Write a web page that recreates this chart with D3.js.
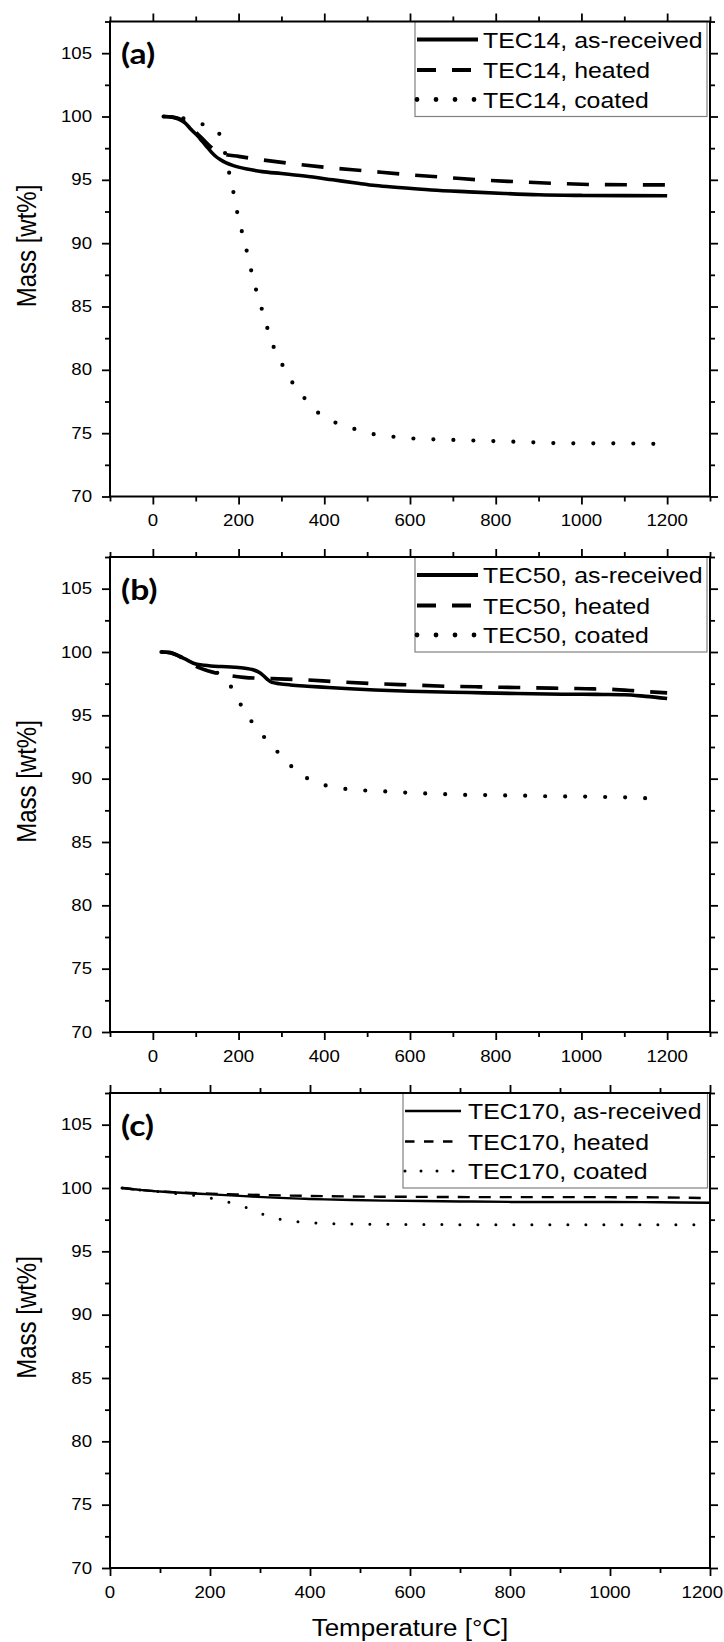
<!DOCTYPE html>
<html>
<head>
<meta charset="utf-8">
<script src="https://cdn.jsdelivr.net/npm/d3@7/dist/d3.min.js"></script>
<style>
  html, body { margin: 0; padding: 0; background: #fff; }
  svg { display: block; }
  text { font-family: "Liberation Sans", Arial, sans-serif; fill: #000; }
</style>
</head>
<body>
<svg id="chart" width="724" height="1642"></svg>
<script>
// ---------------- DATA ----------------
const panelLabels = ["(a)", "(b)", "(c)"];
const yTitle = "Mass [wt%]";
const xTitle = "Temperature [°C]";
const yMajorTicks = [70, 75, 80, 85, 90, 95, 100, 105];
const yMinorTicks = [72.5, 77.5, 82.5, 87.5, 92.5, 97.5, 102.5, 107.5];
const xMajorTicks = [0, 200, 400, 600, 800, 1000, 1200];
const xMinorTicksAB = [-100, 100, 300, 500, 700, 900, 1100, 1300];
const xMinorTicksC = [100, 300, 500, 700, 900, 1100];

const legendA = ["TEC14, as-received", "TEC14, heated", "TEC14, coated"];
const legendB = ["TEC50, as-received", "TEC50, heated", "TEC50, coated"];
const legendC = ["TEC170, as-received", "TEC170, heated", "TEC170, coated"];

// Panel (a)
const tec14ReceivedT = [25, 45, 60, 75, 90, 105, 115, 125, 135, 145, 157, 170, 190, 220, 255, 300, 354, 420, 474, 520, 572, 650, 737, 820, 900, 1000, 1100, 1200];
const tec14ReceivedM = [100, 99.95, 99.8, 99.5, 98.95, 98.45, 98.05, 97.65, 97.25, 96.9, 96.6, 96.35, 96.1, 95.85, 95.65, 95.5, 95.3, 95.0, 94.75, 94.55, 94.4, 94.2, 94.05, 93.92, 93.82, 93.77, 93.75, 93.74];
const tec14HeatedT = [25, 45, 60, 75, 90, 105, 120, 135, 150, 165, 200, 250, 320, 400, 500, 600, 700, 760, 850, 955, 1050, 1200];
const tec14HeatedM = [100, 99.95, 99.85, 99.6, 99.1, 98.6, 98.1, 97.6, 97.25, 97.05, 96.85, 96.6, 96.3, 96.0, 95.7, 95.4, 95.15, 95.0, 94.85, 94.7, 94.62, 94.6];
const tec14CoatedT = [25, 65, 90, 115, 140, 154, 165, 179, 190, 200, 212, 223, 234, 247, 261, 275, 295, 318, 346, 376, 422, 469, 518, 567, 617, 667, 716, 769, 868, 968, 1067, 1175];
const tec14CoatedM = [100, 99.9, 99.7, 99.4, 99.1, 98.7, 97.6, 95.4, 93.7, 91.9, 90.4, 88.8, 87.2, 85.6, 84.05, 82.4, 80.9, 79.4, 78.1, 76.9, 75.9, 75.35, 74.9, 74.7, 74.56, 74.5, 74.45, 74.4, 74.3, 74.2, 74.2, 74.15];

// Panel (b)
const tec50ReceivedT = [20, 40, 53, 75, 100, 120, 135, 160, 190, 215, 234, 245, 256, 267, 278, 295, 321, 360, 409, 460, 518, 600, 737, 850, 955, 1050, 1100, 1150, 1200];
const tec50ReceivedM = [100, 99.95, 99.8, 99.45, 99.05, 98.95, 98.9, 98.85, 98.8, 98.72, 98.6, 98.45, 98.2, 97.85, 97.6, 97.5, 97.4, 97.3, 97.2, 97.1, 97.0, 96.9, 96.8, 96.72, 96.67, 96.65, 96.63, 96.5, 96.33];
const tec50HeatedT = [20, 40, 53, 75, 102, 130, 168, 212, 277, 354, 430, 518, 600, 682, 760, 846, 930, 1010, 1070, 1119, 1160, 1200];
const tec50HeatedM = [100, 99.95, 99.8, 99.4, 98.85, 98.5, 98.2, 98.0, 97.9, 97.8, 97.65, 97.5, 97.4, 97.3, 97.25, 97.2, 97.15, 97.1, 97.05, 96.95, 96.85, 96.77];
const tec50CoatedT = [20, 40, 60, 80, 100, 120, 140, 157, 175, 190, 212, 239, 272, 303, 335, 381, 428, 477, 523, 574, 624, 676, 729, 780, 830, 885, 935, 985, 1040, 1090, 1140, 1174];
const tec50CoatedM = [100, 99.9, 99.7, 99.35, 99.0, 98.7, 98.45, 98.25, 97.6, 96.85, 95.4, 94.15, 92.8, 91.7, 90.6, 89.7, 89.3, 89.1, 89.03, 88.93, 88.85, 88.78, 88.72, 88.7, 88.67, 88.65, 88.6, 88.6, 88.56, 88.54, 88.48, 88.38];

// Panel (c)
const tec170ReceivedT = [24, 60, 108, 150, 202, 250, 295, 340, 389, 430, 483, 550, 624, 700, 812, 900, 999, 1100, 1200];
const tec170ReceivedM = [100, 99.85, 99.7, 99.6, 99.5, 99.4, 99.3, 99.22, 99.15, 99.1, 99.05, 99.0, 98.97, 98.94, 98.9, 98.9, 98.9, 98.87, 98.83];
const tec170HeatedT = [24, 60, 108, 150, 202, 250, 300, 360, 436, 520, 624, 750, 900, 1050, 1200];
const tec170HeatedM = [100, 99.85, 99.7, 99.62, 99.55, 99.5, 99.45, 99.4, 99.35, 99.32, 99.3, 99.28, 99.28, 99.27, 99.2];
const tec170CoatedT = [24, 60, 100, 136, 180, 220, 258, 280, 300, 318, 333, 361, 389, 436, 500, 600, 800, 1000, 1200];
const tec170CoatedM = [100, 99.85, 99.7, 99.55, 99.35, 99.05, 98.65, 98.35, 98.0, 97.8, 97.6, 97.41, 97.29, 97.2, 97.15, 97.12, 97.1, 97.1, 97.1];

// ---------------- LAYOUT ----------------
const svg = d3.select("#chart");
const plotLeft = 110, plotRight = 710, plotH = 475;
const panelTops = [21.5, 557, 1093];
const SX = 1.13; // horizontal text stretch of the reference

const zip = (T, M) => T.map((t, i) => ({t: t, m: M[i]}));

const thick = {solid: {w: 3.6, dash: null, cap: "butt"}, dashed: {w: 3.6, dash: "22 16", cap: "butt"}, dotted: {w: 4.2, dash: "0 20", cap: "round"}};
const thin = {solid: {w: 2.4, dash: null, cap: "butt"}, dashed: {w: 2.4, dash: "12 9", cap: "butt"}, dotted: {w: 3, dash: "0 18", cap: "round"}};

const panels = [
  {label: panelLabels[0], xDomain: [-100, 1300], minor: xMinorTicksAB, legend: legendA, styles: thick,
   legBox: [415, 707], legSample: [417, 478], legText: 483, legLegendDash: {dashed: "19 16", dotted: "0 19"},
   series: [zip(tec14ReceivedT, tec14ReceivedM), zip(tec14HeatedT, tec14HeatedM), zip(tec14CoatedT, tec14CoatedM)]},
  {label: panelLabels[1], xDomain: [-100, 1300], minor: xMinorTicksAB, legend: legendB, styles: thick,
   legBox: [415, 707], legSample: [417, 478], legText: 483, legLegendDash: {dashed: "19 16", dotted: "0 19"},
   series: [zip(tec50ReceivedT, tec50ReceivedM), zip(tec50HeatedT, tec50HeatedM), zip(tec50CoatedT, tec50CoatedM)]},
  {label: panelLabels[2], xDomain: [0, 1200], minor: xMinorTicksC, legend: legendC, styles: thin,
   legBox: [403, 707.5], legSample: [405, 461], legText: 468, legLegendDash: {dashed: "9.5 9.5", dotted: "0 16"},
   series: [zip(tec170ReceivedT, tec170ReceivedM), zip(tec170HeatedT, tec170HeatedM), zip(tec170CoatedT, tec170CoatedM)]}
];
const styleKeys = ["solid", "dashed", "dotted"];

function stretchedText(g, x, y, str, opts) {
  const t = g.append("text")
    .attr("transform", `translate(${x},${y}) scale(${opts.sx || SX},1)` + (opts.rotate ? ` rotate(${opts.rotate})` : ""))
    .attr("text-anchor", opts.anchor || "start")
    .attr("dominant-baseline", "central")
    .style("font-size", opts.size + "px")
    .text(str);
  if (opts.weight) t.style("font-weight", opts.weight);
  if (opts.family) t.style("font-family", opts.family);
  return t;
}

panels.forEach((p, pi) => {
  const top = panelTops[pi], bottom = top + plotH;
  const x = d3.scaleLinear().domain(p.xDomain).range([plotLeft, plotRight]);
  const y = d3.scaleLinear().domain([70, 107.5]).range([bottom, top]);
  const g = svg.append("g");

  // Axes ticks
  const mk = (axisFn, scale, vals, size) => axisFn(scale).tickValues(vals).tickSize(size).tickFormat("");
  const addAxis = (axis, tx, ty) => {
    const a = g.append("g").attr("transform", `translate(${tx},${ty})`).call(axis);
    a.select(".domain").remove();
    a.selectAll("line").attr("stroke", "#000").attr("stroke-width", 1.8);
    a.selectAll("text").remove();
    return a;
  };
  addAxis(mk(d3.axisBottom, x, xMajorTicks, 8), 0, bottom);
  addAxis(mk(d3.axisBottom, x, p.minor, 5), 0, bottom);
  addAxis(mk(d3.axisTop, x, xMajorTicks, 8), 0, top);
  addAxis(mk(d3.axisTop, x, p.minor, 5), 0, top);
  addAxis(mk(d3.axisLeft, y, yMajorTicks, 8), plotLeft, 0);
  addAxis(mk(d3.axisLeft, y, yMinorTicks, 5), plotLeft, 0);
  addAxis(mk(d3.axisRight, y, yMajorTicks, 8), plotRight, 0);
  addAxis(mk(d3.axisRight, y, yMinorTicks, 5), plotRight, 0);

  // Tick labels
  xMajorTicks.forEach(v => {
    const cx = x(v);
    if (cx + 22 > 723) stretchedText(g, 723, bottom + 24, String(v), {size: 16.5, anchor: "end"});
    else stretchedText(g, cx, bottom + 24, String(v), {size: 16.5, anchor: "middle"});
  });
  yMajorTicks.forEach(v => stretchedText(g, plotLeft - 18, y(v), String(v), {size: 16.5, anchor: "end"}));

  // Y title
  stretchedText(g, 26, (top + bottom) / 2 - 13, yTitle, {size: 24, anchor: "middle", rotate: -90});

  // Curves
  const line = d3.line().x(d => x(d.t)).y(d => y(d.m)).curve(d3.curveMonotoneX);
  p.series.forEach((s, si) => {
    const st = p.styles[styleKeys[si]];
    const path = g.append("path").datum(s).attr("d", line)
      .attr("fill", "none").attr("stroke", "#000")
      .attr("stroke-width", st.w).attr("stroke-linecap", st.cap).attr("stroke-linejoin", "round");
    if (st.dash) path.attr("stroke-dasharray", st.dash);
  });

  // Legend
  const lg = g.append("g");
  lg.append("rect").attr("x", p.legBox[0]).attr("y", top).attr("width", p.legBox[1] - p.legBox[0]).attr("height", 95)
    .attr("fill", "#fff").attr("stroke", "#808080").attr("stroke-width", 1.2);
  const rowY = [18, 48.5, 78];
  p.legend.forEach((name, li) => {
    const st = p.styles[styleKeys[li]];
    const yy = top + rowY[li];
    const ln = lg.append("line").attr("x1", p.legSample[0]).attr("x2", p.legSample[1]).attr("y1", yy).attr("y2", yy)
      .attr("stroke", "#000").attr("stroke-width", st.w + (pi < 2 ? 0.6 : 0)).attr("stroke-linecap", st.cap);
    if (st.dash) ln.attr("stroke-dasharray", p.legLegendDash[styleKeys[li]]);
    stretchedText(lg, p.legText, yy + 1, name, {size: 22});
  });

  // Frame
  g.append("rect").attr("x", plotLeft).attr("y", top).attr("width", plotRight - plotLeft).attr("height", plotH)
    .attr("fill", "none").attr("stroke", "#000").attr("stroke-width", 2);

  // Panel label
  stretchedText(g, 121, y(105), p.label, {size: 28, weight: "bold", family: "Lato, 'Open Sans', sans-serif", sx: 1.2});
});

// X title (bottom only)
stretchedText(svg, (plotLeft + plotRight) / 2, 1628, xTitle, {size: 23, anchor: "middle"});
</script>
</body>
</html>
